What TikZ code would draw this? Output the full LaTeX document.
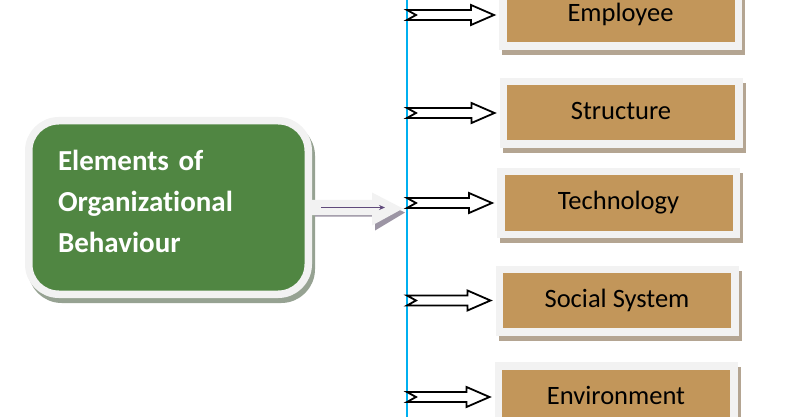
\documentclass[tikz,border=0pt]{standalone}
\usepackage{fontspec}
\setmainfont{Carlito}[Ligatures=NoCommon]
\usetikzlibrary{arrows.meta,calc,shadows}
\definecolor{obgreen}{RGB}{80,134,66}
\definecolor{obbrown}{RGB}{194,150,90}
\definecolor{paleframe}{RGB}{242,242,242}
\definecolor{grshadow}{RGB}{150,162,146}
\definecolor{brshadow}{RGB}{180,165,146}
\definecolor{arshadow}{RGB}{156,149,164}
\definecolor{spineblue}{RGB}{0,176,240}
\definecolor{pointer}{RGB}{96,74,123}

\begin{document}
\begin{tikzpicture}[x=1pt,y=-1pt,
  frame/.style={draw=paleframe,line width=7.5pt},
  element/.style={frame,fill=obbrown,minimum width=235.5pt,minimum height=62.5pt,
    inner sep=0pt,text height=19pt,text depth=5pt,font=\fontsize{26.5}{30}\selectfont,
    drop shadow={shadow xshift=3pt,shadow yshift=-5pt,fill=brshadow,draw=brshadow,opacity=1}},
  root/.style={frame,fill=obgreen,rounded corners=30pt,minimum width=279.5pt,
    minimum height=173.5pt,inner xsep=29.25pt,text width=221pt,align=left,
    text depth=94pt,text=white,font=\fontsize{29}{41}\selectfont\bfseries,
    drop shadow={shadow xshift=3pt,shadow yshift=-5pt,fill=grshadow,draw=grshadow,opacity=1}},
  hollow arrow/.style={draw=black,fill=white,line width=1.8pt,line join=miter}]

\useasboundingbox (0,0) rectangle (793,417);

% vertical spine
\coordinate (spine) at (407,0);
\draw[spineblue,line width=1.5pt] (spine) -- (407,417);

% the five elements
\node[element] (emp) at (620.5,15)  {Employee};
\node[element] (str) at (621,113)   {Structure};
\node[element] (tec) at (618.5,203) {Technology};
\node[element] (soc) at (617,300.5) {Social System};
\node[element] (env) at (616,397)   {Environment};

% main box
\node[root] (elem) at (168.5,207.5) {Elements of\\Organizational\\Behaviour};

% big arrow into the spine, shadow first
\fill[arshadow] let \p1=(elem.east), \p2=(spine) in
  ({\x1+3pt},{\y1-9pt}) -- ({\x2-32pt},{\y1-9pt}) -- ({\x2-32pt},{\y1-23pt})
  -- ({\x2-2pt},{\y1-5pt}) -- ({\x2-32pt},{\y1+9pt}) -- ({\x2-32pt},{\y1-3pt})
  -- ({\x1+3pt},{\y1-3pt}) -- cycle;
\fill[paleframe] let \p1=(elem.east), \p2=(spine) in
  (\x1,{\y1-7.5pt}) -- ({\x2-35pt},{\y1-7.5pt}) -- ({\x2-35pt},{\y1-18pt})
  -- ({\x2-4pt},{\y1-1pt}) -- ({\x2-35pt},{\y1+15pt}) -- ({\x2-35pt},{\y1+7.5pt})
  -- (\x1,{\y1+7.5pt}) -- cycle;
\draw[pointer,line width=1.2pt,-{Stealth[length=6pt,width=5pt]}]
  let \p1=(elem.east) in ({\x1+9pt},\y1) -- ({\x1+73pt},\y1);

% hollow arrows from the spine to each element
\foreach \el in {emp,str,tec,soc,env}
  \draw[hollow arrow] let \p1=(\el.west), \p2=(spine) in
    (\x2,{\y1+5pt}) -- ({\x1-28pt},{\y1+5pt}) -- ({\x1-28pt},{\y1+10pt})
    -- ({\x1-5pt},\y1) -- ({\x1-28pt},{\y1-10pt}) -- ({\x1-28pt},{\y1-5pt})
    -- (\x2,{\y1-5pt}) -- ({\x2+9pt},\y1) -- cycle;

\end{tikzpicture}
\end{document}
